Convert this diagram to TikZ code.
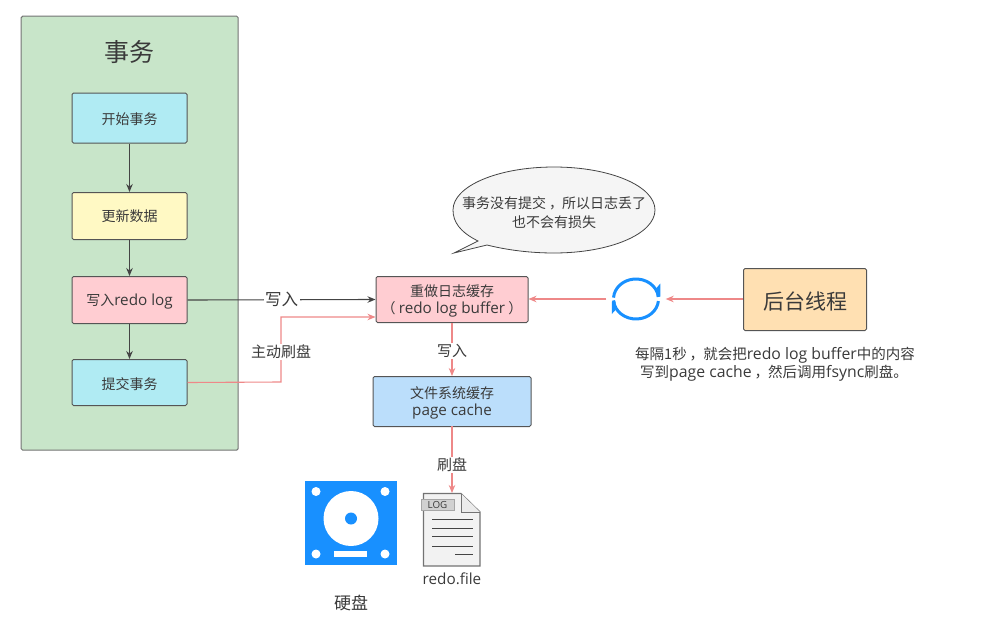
\documentclass[tikz,border=0pt]{standalone}
\usepackage{fontspec}
\setmainfont{Noto Sans CJK SC}
\newfontfamily\lat[Scale=1.09]{Open Sans}
\usetikzlibrary{arrows.meta,calc}
\definecolor{txt}{HTML}{3A3A3A}
\definecolor{edge}{HTML}{555555}
\definecolor{redl}{HTML}{EE8888}
\definecolor{blk}{HTML}{444444}
\definecolor{blu}{HTML}{1890FF}
\newcommand\dn[1]{\raisebox{-1.5pt}[\height][\depth]{#1}}
\newcommand\cm{\kern3pt，\kern-1pt}
\tikzset{
  x=1pt,y=-1pt,
  every node/.style={text=txt,font=\fontsize{14}{16.5}\selectfont,align=center,inner sep=0pt},
  boxn/.style={draw=edge,line width=1pt,rounded corners=1.5pt,anchor=north west},
  blackline/.style={draw=blk,line width=1.1pt,-{Stealth[length=8pt,width=6.5pt]}},
  redline/.style={draw=redl,line width=1.1pt,-{Stealth[length=8pt,width=6.5pt]}},
  lab/.style={fill=white,inner xsep=1.5pt,inner ysep=1pt},
  labs/.style={lab,font=\fontsize{15}{18}\selectfont},
  bb/.style={draw=none,inner sep=0pt,minimum width=59pt,minimum height=50pt}
}
\begin{document}
\begin{tikzpicture}
\useasboundingbox (0,0) rectangle (1006,634);
\node[boxn,draw=black!55,fill={rgb,255:red,200;green,229;blue,201},minimum width=217pt,minimum height=434pt] (tx) at (20.7,15.7) {};
\node[font=\fontsize{25}{28}\selectfont] (txt) at (129.3,52) {事务};
\node[boxn,fill={rgb,255:red,176;green,235;blue,243},minimum width=115pt,minimum height=50pt] (a) at (71.5,92.5) {\dn{开始事务}};
\node[boxn,fill={rgb,255:red,255;green,249;blue,196},minimum width=115pt,minimum height=47pt] (b) at (71.5,192) {更新数据};
\node[boxn,fill={rgb,255:red,255;green,205;blue,210},minimum width=115pt,minimum height=47pt] (c) at (71.5,276) {\dn{写入{\lat redo log}}};
\node[boxn,fill={rgb,255:red,176;green,235;blue,243},minimum width=115pt,minimum height=46pt] (d) at (71.5,359) {\dn{提交事务}};
\node[boxn,fill={rgb,255:red,255;green,205;blue,210},minimum width=152pt,minimum height=46pt] (r) at (375.5,276) {\dn{重做日志缓存}\\\dn{（ {\lat redo log buffer} ）}};
\node[boxn,fill={rgb,255:red,187;green,222;blue,251},minimum width=158pt,minimum height=50pt] (p) at (372.5,376) {\dn{文件系统缓存}\\\dn{{\lat page cache}}};
\node[boxn,fill={rgb,255:red,255;green,224;blue,178},minimum width=123pt,minimum height=62pt,font=\fontsize{21}{25}\selectfont] (h) at (743,268) {\dn{后台线程}};
\node[bb] (loop) at (636,299) {};
\draw[blu,line width=3pt] (loop.center) ++(176:22.5 and 20) arc[start angle=176,end angle=6,x radius=22.5,y radius=20];
\draw[blu,line width=3pt] (loop.center) ++(-6:22.5 and 20) arc[start angle=-6,end angle=-176,x radius=22.5,y radius=20];
\fill[blu] (660.3,283.5) -- (660.3,296.5) -- (656.5,296.5) -- (656.5,288) -- cycle;
\fill[blu] (611.8,314) -- (611.8,301.5) -- (615.5,301.5) -- (615.5,310) -- cycle;
% connectors
\draw[blackline] (a) -- (b);
\draw[blackline] (b) -- (c);
\draw[blackline] (c) -- (d);
\draw[blackline] (c.east) -- (r.west) node[midway,lab,font=\fontsize{16.5}{18}\selectfont] (wl) {写入};
\coordinate (dout) at (d.east);
\coordinate (kink1) at (281,382);
\coordinate (kink2) at (281,317);
\draw[redline] (dout) -- (kink1) -- (kink2) -- (r.west |- kink2);
\node[labs] (zl) at (281,352) {主动刷盘};
\draw[redline] (h.west |- loop) -- (loop.east);
\draw[redline] (loop.west) -- (r.east |- loop);
\draw[redline] (r.south -| 452,0) -- (p.north -| 452,0) node[midway,labs,yshift=-1.5pt] (w2) {写入};
\coordinate (ftop) at (452,493);
\draw[redline] (452,426) -- (ftop);
\node[labs] (sl) at (452,465) {刷盘};
% bubble
\filldraw[draw=blk,fill=black!4,line width=.8pt] (454,253) -- (478,241)
  .. controls (460,232) and (453,222) .. (453,210)
  .. controls (453,186) and (498,167) .. (554,167)
  .. controls (610,167) and (655,186) .. (655,210)
  .. controls (655,234) and (610,253) .. (554,253)
  .. controls (530,253) and (507,250) .. (487,245) -- cycle;
\node[font=\fontsize{14}{18.5}\selectfont] (bt) at (554,212.5) {事务没有提交\cm 所以日志丢了\\也不会有损失};
\node[anchor=west,font=\fontsize{14.5}{18}\selectfont] (n1) at (635,355.5) {每隔1秒\cm 就会把{\lat redo log buffer}中的内容};
\node[anchor=west,font=\fontsize{14.5}{18}\selectfont] (n2) at (640,373.5) {写到{\lat page cache}\cm 然后调用{\lat fsync}刷盘。};
% disk
\fill[blu] (304.5,481) rectangle (397,565);
\fill[white] (351,518.5) circle[radius=27.5];
\fill[blu] (351,518.5) circle[radius=6];
\foreach \p in {(316,491.5),(385,491.5),(316,554),(385,554)} \fill[white] \p circle[radius=4.5];
\fill[white] (334,551) rectangle (367,557);
\node[font=\fontsize{17}{20}\selectfont] (dl) at (351,603) {硬盘};
% file
\filldraw[draw=black!55,fill=black!5,line width=1.2pt] (423.5,493.5) -- (461,493.5) -- (480,512) -- (480,566) -- (423.5,566) -- cycle;
\draw[black!55,line width=1pt,fill=black!8] (461,493.5) -- (461,512) -- (480,512);
\node[draw=black!35,fill=black!18,line width=1pt,minimum width=33pt,minimum height=11pt,font=\fontsize{9}{10}\selectfont\lat] (logt) at (437.5,505) {LOG};
\foreach \y/\a in {519/432,528/432,536/432,546/432,554/455} \draw[blk,line width=.9pt] (\a,\y) -- (473,\y);
\node[font=\fontsize{14}{18}\selectfont\lat] (fl) at (452,579) {redo.file};
\end{tikzpicture}
\end{document}
